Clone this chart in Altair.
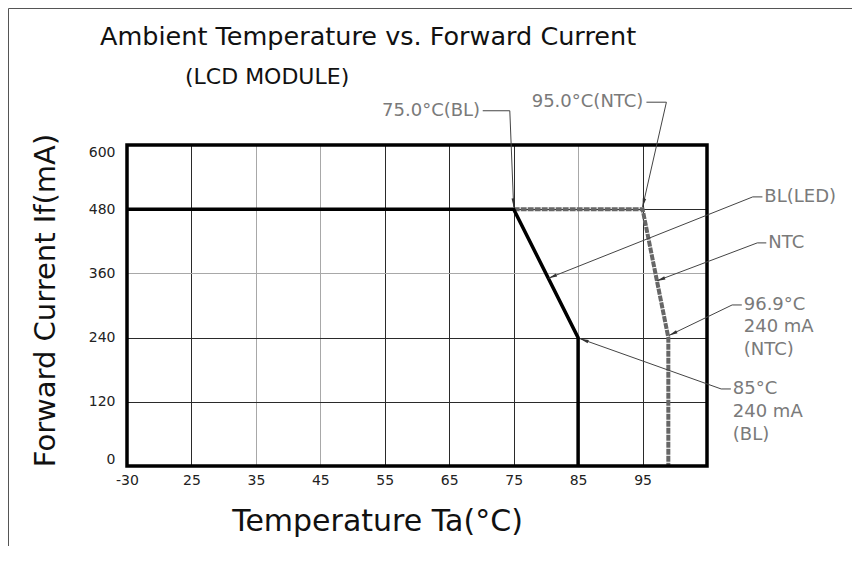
import math
import altair as alt
import pandas as pd

# ---------------- data ----------------
bl_temp = [-30, 75, 85, 85]
bl_current = [480, 480, 240, 0]
ntc_temp = [75, 95, 99, 99]
ntc_current = [480, 480, 240, 0]

x_ticks = [-30, 25, 35, 45, 55, 65, 75, 85, 95]
y_ticks = [0, 120, 240, 360, 480, 600]

title_main = "Ambient Temperature vs. Forward Current"
title_sub = "(LCD MODULE)"
x_title = "Temperature Ta(°C)"
y_title = "Forward Current If(mA)"

# annotation labels (text, temperature, current, align)
ann_text = ["75.0°C(BL)", "95.0°C(NTC)", "BL(LED)", "NTC",
            "96.9°C", "240  mA", "(NTC)", "85°C", "240  mA", "(BL)"]
ann_t = [69.8, 77.8, 113.9, 114.5, 110.7, 110.7, 110.7, 109.0, 109.0, 109.0]
ann_i = [664, 680, 503, 417, 301, 260, 217, 144, 101, 58]
ann_align = ["right", "left", "left", "left", "left", "left", "left", "left", "left", "left"]

# leader lines: last point of each is the arrow tip
leaders = [
    [(70.2, 664), (74.4, 664), (75.0, 484)],
    [(95.6, 680), (98.7, 680), (95.0, 484)],
    [(113.6, 503), (112.1, 503), (80.4, 351)],
    [(114.2, 417), (112.8, 417), (97.2, 346)],
    [(110.4, 301), (108.9, 301), (99.1, 244)],
    [(108.7, 144), (107.2, 144), (85.3, 238)],
]

# ---------------- layout ----------------
W, H = 580, 321
X_DOMAIN = [-30, 25, 105]
X_RANGE = [0, 64.44, W]
FONT = "DejaVu Sans"


def to_px(t):
    if t >= 25:
        return X_RANGE[1] + (t - 25) * (W - X_RANGE[1]) / 80.0
    return (t + 30) / 55.0 * X_RANGE[1]


def to_py(i):
    return H - i / 600.0 * H


xscale = alt.Scale(domain=X_DOMAIN, range=X_RANGE, nice=False, zero=False)
yscale = alt.Scale(domain=[0, 600], nice=False, zero=False)

grid_x_color = {"condition": {"test": "indexof([35, 45, 85], datum.value) >= 0", "value": "#a8a8a8"},
                "value": "#2a2a2a"}
grid_y_color = {"condition": {"test": "datum.value == 360", "value": "#a8a8a8"},
                "value": "#2a2a2a"}

x_axis = alt.Axis(values=x_ticks, title=x_title, grid=True, gridColor=grid_x_color, gridWidth=1,
                  domain=False, ticks=True, tickSize=0, tickColor="transparent",
                  labelPadding=7, labelFont=FONT, labelFontSize=14, labelColor="#222",
                  labelFlush=False, labelBaseline="top", labelExpr="toString(datum.value)",
                  titleFont=FONT, titleFontSize=30, titleFontWeight="normal", titleColor="#111",
                  titleX=250, titleY=64, titleAlign="center", titleBaseline="alphabetic",
                  titleAnchor="start")
y_axis = alt.Axis(values=y_ticks, title=y_title, grid=True, gridColor=grid_y_color, gridWidth=1,
                  domain=False, ticks=True, tickSize=0, tickColor="transparent",
                  labelPadding=12, labelFont=FONT, labelFontSize=14, labelColor="#222",
                  labelFlush=True,
                  titleFont=FONT, titleFontSize=29, titleFontWeight="normal", titleColor="#111",
                  titleAngle=270, titleX=-73, titleY=155, titleAlign="center",
                  titleBaseline="alphabetic", titleAnchor="start")

curves = pd.DataFrame({
    "series": ["BL"] * len(bl_temp) + ["NTC"] * len(ntc_temp),
    "temp": bl_temp + ntc_temp,
    "current": bl_current + ntc_current,
    "order": list(range(len(bl_temp))) + list(range(len(ntc_temp))),
})

base = alt.Chart(curves).encode(
    x=alt.X("temp:Q", scale=xscale, axis=x_axis),
    y=alt.Y("current:Q", scale=yscale, axis=y_axis),
)

ntc_line = base.transform_filter(alt.datum.series == "NTC").mark_line(
    color="#666666", strokeWidth=4, strokeDash=[6, 1]
).encode(order="order:Q")
bl_line = base.transform_filter(alt.datum.series == "BL").mark_line(
    color="#000000", strokeWidth=3.5
).encode(order="order:Q")

# leaders
lrows = []
arows = []
for g, pts in enumerate(leaders):
    for k, (t, i) in enumerate(pts):
        lrows.append({"g": g, "k": k, "temp": t, "current": i})
    (st, si), (tt, ti) = pts[-2], pts[-1]
    dx = to_px(st) - to_px(tt)
    dy = to_py(si) - to_py(ti)
    n = math.hypot(dx, dy)
    ang = math.degrees(math.atan2(-dx / n, dy / n)) % 360
    arows.append({"temp": tt, "current": ti, "ang": ang})
ldf = pd.DataFrame(lrows)
adf = pd.DataFrame(arows)

leader_lines = alt.Chart(ldf).mark_line(color="#444", strokeWidth=1).encode(
    x=alt.X("temp:Q", scale=xscale),
    y=alt.Y("current:Q", scale=yscale),
    detail="g:N",
    order="k:Q",
)
arrow_heads = alt.Chart(adf).mark_point(
    shape="M0,0L0.2,1L-0.2,1Z", filled=True, color="#333", size=300, opacity=1
).encode(
    x=alt.X("temp:Q", scale=xscale),
    y=alt.Y("current:Q", scale=yscale),
    angle=alt.Angle("ang:Q", scale=None),
)

tdf = pd.DataFrame({"text": ann_text, "temp": ann_t, "current": ann_i, "align": ann_align})
ann_right = alt.Chart(tdf).transform_filter(alt.datum.align == "right").mark_text(
    align="right", baseline="middle", font=FONT, fontSize=18, color="#7a7a7a"
).encode(x=alt.X("temp:Q", scale=xscale), y=alt.Y("current:Q", scale=yscale), text="text:N")
ann_left = alt.Chart(tdf).transform_filter(alt.datum.align == "left").mark_text(
    align="left", baseline="middle", font=FONT, fontSize=18, color="#7a7a7a"
).encode(x=alt.X("temp:Q", scale=xscale), y=alt.Y("current:Q", scale=yscale), text="text:N")

title_df = pd.DataFrame({"text": [title_main]})
sub_df = pd.DataFrame({"text": [title_sub]})
title_mark = alt.Chart(title_df).mark_text(
    align="left", baseline="alphabetic", font=FONT, fontSize=25.5, color="#111"
).encode(x=alt.value(100 - 127), y=alt.value(45 - 145), text="text:N")
sub_mark = alt.Chart(sub_df).mark_text(
    align="left", baseline="alphabetic", font=FONT, fontSize=22, color="#111"
).encode(x=alt.value(185 - 127), y=alt.value(84 - 145), text="text:N")

border = alt.Chart(title_df).mark_rect(fill=None, stroke="#000", strokeWidth=3.5).encode(
    x=alt.value(0), x2=alt.value(W), y=alt.value(0), y2=alt.value(H))

frame_top = alt.Chart(title_df).mark_rule(color="#555", strokeWidth=1).encode(
    x=alt.value(-118.5), x2=alt.value(W + 160), y=alt.value(-136.5))
frame_left = alt.Chart(title_df).mark_rule(color="#555", strokeWidth=1).encode(
    x=alt.value(-118.5), y=alt.value(-136.5), y2=alt.value(H + 100))

chart = alt.layer(
    ntc_line, bl_line, border, leader_lines, arrow_heads, ann_right, ann_left,
    title_mark, sub_mark, frame_top, frame_left
).properties(
    width=W, height=H,
    autosize=alt.AutoSizeParams(type="none"),
    padding={"left": 119, "top": 137, "right": 145, "bottom": 80},
).configure_view(
    stroke="#000", strokeWidth=3
).configure(background="white")

chart.save("out.html", embed_options={"renderer": "svg", "actions": False})
